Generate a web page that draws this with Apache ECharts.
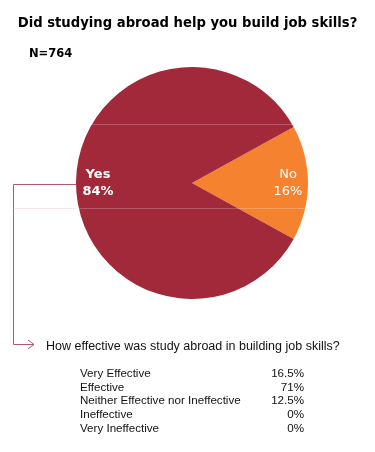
<!DOCTYPE html>
<html>
<head>
<meta charset="utf-8">
<script src="https://cdn.jsdelivr.net/npm/echarts@6/dist/echarts.min.js"></script>
<style>
  html, body { margin: 0; padding: 0; background: #fff; }
  #chart { width: 375px; height: 452px; }
</style>
</head>
<body>
<div id="chart"></div>
<script>
// pie data
var answers = ['No', 'Yes']
var shares = [16, 84]
var sliceColors = ['#f5822f', '#a2293a']

// follow-up question table
var effectLabels = ['Very Effective', 'Effective', 'Neither Effective nor Ineffective', 'Ineffective', 'Very Ineffective']
var effectValues = ['16.5%', '71%', '12.5%', '0%', '0%']

var chart = echarts.init(document.getElementById('chart'))

var tableText = []
effectLabels.forEach(function (name, i) {
  var y = 375 + i * 13.6
  tableText.push({
    type: 'text', left: 80, top: y - 7,
    style: { text: name, font: '11.6px "Liberation Sans", Arial, sans-serif', fill: '#111' }
  })
  tableText.push({
    type: 'text', right: 71, top: y - 7,
    style: { text: effectValues[i], font: '11.6px "Liberation Sans", Arial, sans-serif', fill: '#111', textAlign: 'right' }
  })
})

chart.setOption({
  animation: false,
  title: {
    text: 'Did studying abroad help you build job skills?',
    left: 'center',
    top: 12,
    textStyle: { fontFamily: 'DejaVu Sans', fontWeight: 'bold', fontSize: 13.2, color: '#000' }
  },
  series: [{
    type: 'pie',
    center: [192, 183],
    radius: 116,
    startAngle: 28.8,
    clockwise: true,
    silent: true,
    label: {
      show: true,
      position: 'inside',
      color: '#fff',
      fontFamily: 'DejaVu Sans',
      fontSize: 13,
      lineHeight: 17,
      formatter: function (p) { return p.name + '\n' + p.value + '%' }
    },
    labelLayout: function (p) {
      return { dx: p.dataIndex === 0 ? 35 : -33 }
    },
    data: answers.map(function (a, i) {
      return {
        name: a, value: shares[i],
        itemStyle: { color: sliceColors[i] },
        label: { fontWeight: i === 1 ? 'bold' : 'normal' }
      }
    })
  }],
  graphic: [
    { type: 'text', left: 29, top: 48, style: { text: 'N=764', font: 'bold 11.5px "DejaVu Sans"', fill: '#000' } },
    // faint scan lines over the pie
    { type: 'line', z: 100, shape: { x1: 90, y1: 124.5, x2: 293, y2: 124.5 }, style: { stroke: 'rgba(255,255,255,0.22)', lineWidth: 1 } },
    { type: 'line', z: 100, shape: { x1: 13, y1: 208.5, x2: 305, y2: 208.5 }, style: { stroke: 'rgba(255,255,255,0.22)', lineWidth: 1 } },
    { type: 'line', z: 100, shape: { x1: 13, y1: 208.5, x2: 76, y2: 208.5 }, style: { stroke: 'rgba(200,120,130,0.18)', lineWidth: 1 } },
    // connector to the follow-up question
    { type: 'polyline', shape: { points: [[76, 184.5], [13.5, 184.5], [13.5, 344.5], [34, 344.5]] }, style: { stroke: '#b5576a', lineWidth: 1, fill: null } },
    { type: 'polyline', shape: { points: [[28, 340], [34, 344.5], [28, 349]] }, style: { stroke: '#b5576a', lineWidth: 1, fill: null } },
    { type: 'text', left: 46, top: 340, style: { text: 'How effective was study abroad in building job skills?', font: '12.5px "Liberation Sans", Arial, sans-serif', fill: '#111' } }
  ].concat(tableText)
})
</script>
</body>
</html>
